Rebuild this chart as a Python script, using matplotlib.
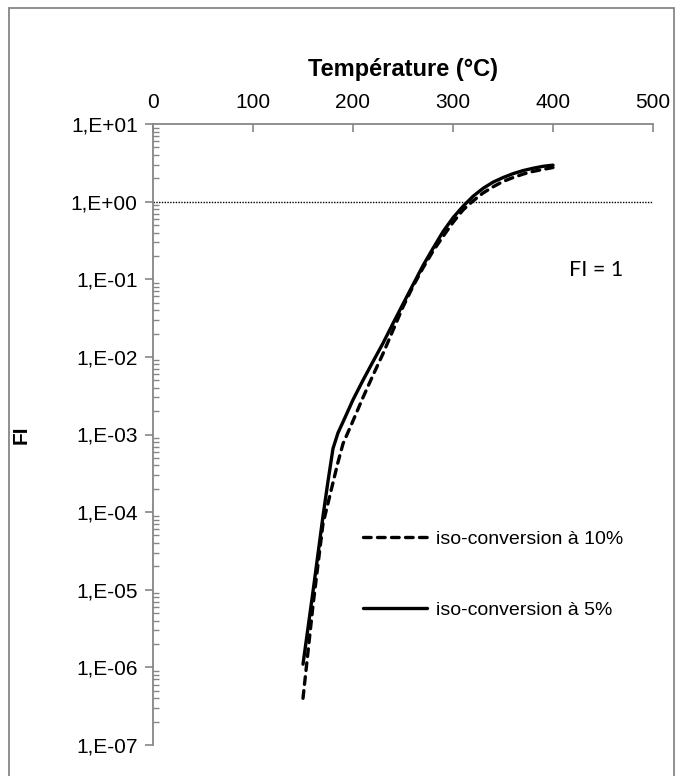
import math
import matplotlib
matplotlib.use('Agg')
import matplotlib.pyplot as plt
from matplotlib.patches import Rectangle
from matplotlib.ticker import FixedLocator, LogLocator, NullFormatter, FuncFormatter

plt.rcParams['font.family'] = ['Liberation Sans', 'DejaVu Sans']

# temperature (°C)
temperature = [150, 160, 170, 175, 180, 185, 190, 200, 210, 220, 230, 240, 250, 260,
               270, 280, 290, 300, 310, 320, 330, 340, 350, 360, 370, 380, 390, 400]

# FI for iso-conversion at 10 %
fi_10 = [4.0e-7, 6.3e-6, 7.1e-5, 1.3e-4, 2.4e-4, 4.4e-4, 7.6e-4, 1.5e-3, 3.0e-3,
         5.8e-3, 1.1e-2, 2.2e-2, 4.4e-2, 8.1e-2, 0.14, 0.23, 0.355, 0.54, 0.78,
         1.02, 1.29, 1.55, 1.82, 2.04, 2.26, 2.45, 2.60, 2.75]

# FI for iso-conversion at 5 %
fi_5 = [1.1e-6, 9.5e-6, 8.9e-5, 2.5e-4, 6.6e-4, 1.05e-3, 1.45e-3, 2.8e-3, 5.0e-3,
        8.7e-3, 1.5e-2, 2.7e-2, 4.8e-2, 8.5e-2, 0.15, 0.25, 0.41, 0.62, 0.87,
        1.17, 1.48, 1.78, 2.04, 2.29, 2.51, 2.69, 2.85, 2.95]

x_ticks = [0, 100, 200, 300, 400, 500]
y_ticks = [1e-7, 1e-6, 1e-5, 1e-4, 1e-3, 1e-2, 1e-1, 1e0, 1e1]
fi_limit = 1.0

grey = '#868686'


def excel_label(v, pos):
    exp = int(round(math.log10(v)))
    sign = '+' if exp >= 0 else '-'
    return '1,E%s%02d' % (sign, abs(exp))


fig = plt.figure(figsize=(6.83, 7.76), dpi=100)
ax = fig.add_axes([153 / 683, 1 - 745 / 776, 500 / 683, 621 / 776])

ax.plot(temperature, fi_10, color='black', lw=2.4, linestyle=(0, (2.3, 1.9)),
        dash_capstyle='round', solid_capstyle='round', label='iso-conversion à 10%')
ax.plot(temperature, fi_5, color='black', lw=2.4, solid_capstyle='round',
        solid_joinstyle='round', label='iso-conversion à 5%')
ax.plot([x_ticks[0], x_ticks[-1]], [fi_limit, fi_limit], color='black', lw=1.0,
        linestyle=(0, (1, 1)))

ax.set_yscale('log')
ax.set_xlim(x_ticks[0], x_ticks[-1])
ax.set_ylim(y_ticks[0], y_ticks[-1])

ax.xaxis.set_major_locator(FixedLocator(x_ticks))
ax.xaxis.tick_top()
ax.xaxis.set_label_position('top')
ax.yaxis.set_major_locator(FixedLocator(y_ticks))
ax.yaxis.set_major_formatter(FuncFormatter(excel_label))
ax.yaxis.set_minor_locator(LogLocator(base=10, subs=range(2, 10), numticks=20))
ax.yaxis.set_minor_formatter(NullFormatter())

ax.tick_params(axis='x', which='major', direction='in', length=6, width=1.2,
               color=grey, labelsize=15, pad=9)
ax.tick_params(axis='y', which='major', direction='out', length=6, width=1.2,
               color=grey, labelsize=15, pad=5)
ax.tick_params(axis='y', which='minor', direction='in', length=4, width=1.0,
               color=grey)

for side in ['right', 'bottom']:
    ax.spines[side].set_visible(False)
for side in ['left', 'top']:
    ax.spines[side].set_color(grey)
    ax.spines[side].set_linewidth(1.3)

ax.set_xlabel('Température (°C)', fontsize=17, fontweight='bold', labelpad=12)
ax.set_ylabel('FI', fontsize=15, fontweight='bold')
ax.yaxis.set_label_coords(-0.245, 0.5)

ax.text(416, 0.13, 'FI = 1', fontsize=15.5, family=['Lato', 'DejaVu Sans'],
        va='center', ha='left')

handles, labels = ax.get_legend_handles_labels()
ax.legend(handles, labels, loc='upper left', bbox_to_anchor=(0.385, 0.374),
          frameon=False, fontsize=14, handlelength=3.3, handletextpad=0.45,
          labelspacing=2.75)

fig.patches.append(Rectangle((9 / 683, -0.01), 665 / 683, 1.0, transform=fig.transFigure,
                             fill=False, edgecolor=grey, lw=1.3))

plt.savefig('out.png', dpi=100)
